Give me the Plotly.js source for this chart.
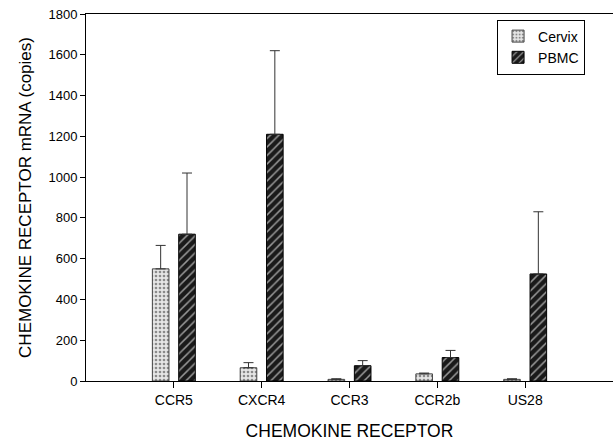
<!DOCTYPE html>
<html><head><meta charset="utf-8">
<script src="https://cdn.plot.ly/plotly-3.0.1.min.js"></script>
<style>body{margin:0;background:#fff}#c{width:613px;height:441px}</style>
</head><body><div id="c"></div>
<script>
var categories = ["CCR5", "CXCR4", "CCR3", "CCR2b", "US28"];
var cervixValues = [550, 65, 8, 35, 8];
var cervixErrors = [115, 25, 3, 4, 3];
var pbmcValues = [720, 1210, 75, 115, 525];
var pbmcErrors = [300, 410, 25, 35, 305];
var yTicks = [0, 200, 400, 600, 800, 1000, 1200, 1400, 1600, 1800];

var font = "Liberation Sans, Arial, sans-serif";
var traces = [
  {type:"bar", name:"Cervix", x:categories, y:cervixValues,
   marker:{color:"#dddddd", line:{color:"#444", width:1},
           pattern:{shape:".", bgcolor:"#e6e6e6", fgcolor:"#8a8a8a", size:4, solidity:0.35}},
   error_y:{type:"data", symmetric:false, array:cervixErrors, arrayminus:[0,0,0,0,0],
            color:"#333", thickness:1, width:5}},
  {type:"bar", name:"PBMC", x:categories, y:pbmcValues,
   marker:{color:"#222", line:{color:"#000", width:1},
           pattern:{shape:"/", bgcolor:"#1a1a1a", fgcolor:"#999", size:6, solidity:0.25}},
   error_y:{type:"data", symmetric:false, array:pbmcErrors, arrayminus:[0,0,0,0,0],
            color:"#333", thickness:1, width:5}}
];
var layout = {
  width:613, height:441,
  margin:{l:86, r:0, t:14, b:60},
  paper_bgcolor:"#fff", plot_bgcolor:"#fff",
  barmode:"group", bargap:0.4, bargroupgap:0.37,
  font:{family:font, size:13, color:"#000"},
  showlegend:true,
  legend:{x:0.78, y:0.985, xanchor:"left", yanchor:"top",
          bordercolor:"#000", borderwidth:1, bgcolor:"#fff",
          font:{family:font, size:14}, tracegroupgap:2},
  xaxis:{type:"category", range:[-1, 5], tickmode:"array", tickvals:categories, ticktext:categories,
         showline:true, linecolor:"#000", linewidth:1, mirror:true,
         ticks:"outside", ticklen:6, tickcolor:"#000", showgrid:false, zeroline:false,
         tickfont:{family:font, size:14},
         title:{text:"CHEMOKINE RECEPTOR", font:{family:font, size:17.5}, standoff:18}},
  yaxis:{range:[0, 1800], tickmode:"array", tickvals:yTicks,
         showline:true, linecolor:"#000", linewidth:1,
         ticks:"outside", ticklen:5, tickcolor:"#000", showgrid:false, zeroline:false,
         tickfont:{family:font, size:13},
         title:{text:"CHEMOKINE RECEPTOR mRNA (copies)", font:{family:font, size:17}, standoff:12}}
};
Plotly.newPlot("c", traces, layout, {displayModeBar:false, staticPlot:true});
</script></body></html>
